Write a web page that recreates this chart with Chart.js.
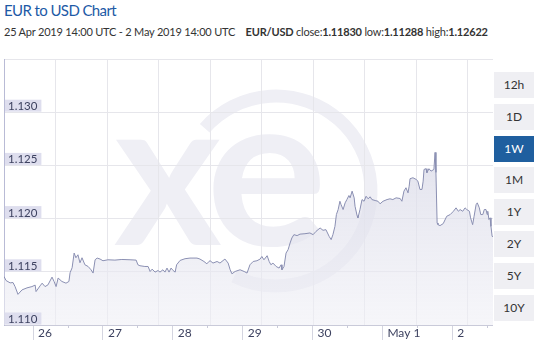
<!DOCTYPE html>
<html>
<head>
<meta charset="utf-8">
<script src="https://cdn.jsdelivr.net/npm/chart.js@4"></script>
<style>
  body { margin: 0; width: 536px; height: 348px; background: #fff; font-family: Lato, sans-serif; position: relative; overflow: hidden; }
  #title { position: absolute; left: 4px; top: 0px; font-size: 15px; letter-spacing: -0.6px; line-height: 20px; color: #1d5aa6; }
  #sub { position: absolute; left: 4px; top: 24px; font-size: 11px; letter-spacing: -0.2px; line-height: 16px; color: #333; white-space: nowrap; }
  #sub b { font-weight: 700; }
  #wrap { position: absolute; left: 0; top: 50px; width: 493px; height: 298px; }
  .btn { position: absolute; left: 494px; width: 40px; height: 26px; line-height: 26px; text-align: center; font-size: 12px; color: #333; background: #efeff3; }
  .btn.on { background: #1f5f9f; color: #fff; }
</style>
</head>
<body>
<div id="title">EUR to USD Chart</div>
<div id="sub">25 Apr 2019 14:00 UTC - 2 May 2019 14:00 UTC &nbsp;&nbsp; <b>EUR/USD</b> close:<b>1.11830</b> low:<b>1.11288</b> high:<b>1.12622</b></div>
<div id="wrap"><canvas id="chart"></canvas></div>
<div id="btns"></div>
<script>
// hours since 25 Apr 2019 14:00 UTC
let hours = [0.0,0.7,2.1,3.1,3.8,4.8,6.2,7.9,9.6,10.7,11.0,12.4,13.1,14.1,15.1,16.5,17.2,17.9,18.6,19.9,
  21.3,22.3,22.7,23.4,24.1,24.7,25.4,26.1,26.8,27.8,28.9,29.9,30.6,31.3,32.0,33.0,34.0,35.7,38.1,40.5,
  43.3,45.4,46.0,46.7,48.4,49.5,50.2,50.9,51.9,52.9,53.6,54.6,55.3,56.0,56.7,57.4,58.1,58.8,59.3,60.5,
  62.2,63.9,66.3,67.3,68.7,69.7,70.4,70.8,71.8,73.2,74.2,75.9,77.0,77.7,78.3,79.4,81.1,82.5,83.5,84.5,
  85.6,86.9,88.0,88.6,89.3,90.4,91.1,91.7,92.4,93.5,94.5,95.2,95.5,96.2,96.9,97.6,98.3,98.9,99.6,100.7,
  101.7,103.4,105.1,106.2,107.2,108.6,109.6,110.6,111.7,112.4,113.0,113.7,114.2,114.8,115.4,115.8,116.5,117.2,117.8,118.5,
  118.9,119.6,120.3,120.6,121.3,121.6,122.3,123.0,123.7,124.4,125.1,125.8,126.4,127.5,128.5,129.2,130.2,131.6,132.6,133.6,
  134.7,136.1,136.7,137.4,138.1,138.8,139.2,139.5,140.5,141.6,142.2,142.9,143.6,144.0,144.3,145.0,145.3,146.0,146.7,147.7,
  148.1,148.4,148.8,149.1,149.8,150.9,152.1,153.3,154.4,155.3,156.1,156.7,157.6,158.4,159.0,159.9,160.3,161.0,161.5,162.2,
  162.6,163.3,163.8,164.5,165.0,165.6,166.0,166.2,166.6,167.0,167.3,167.7,168.0];
let rates = [1.11456,1.11418,1.11396,1.11399,1.11361,1.11288,1.11330,1.11349,1.11361,1.11375,1.11314,1.11368,1.11393,1.11361,1.11377,1.11450,1.11409,1.11361,1.11441,1.11409,
  1.11393,1.11409,1.11491,1.11538,1.11676,1.11632,1.11660,1.11585,1.11632,1.11566,1.11550,1.11519,1.11488,1.11613,1.11629,1.11620,1.11604,1.11613,1.11610,1.11616,
  1.11613,1.11610,1.11566,1.11557,1.11550,1.11550,1.11503,1.11525,1.11497,1.11512,1.11497,1.11519,1.11497,1.11535,1.11497,1.11535,1.11512,1.11497,1.11566,1.11607,
  1.11623,1.11629,1.11629,1.11620,1.11597,1.11575,1.11597,1.11604,1.11582,1.11597,1.11582,1.11620,1.11582,1.11519,1.11481,1.11503,1.11519,1.11503,1.11488,1.11566,
  1.11597,1.11604,1.11620,1.11644,1.11613,1.11651,1.11597,1.11566,1.11582,1.11550,1.11535,1.11566,1.11519,1.11550,1.11676,1.11708,1.11771,1.11818,1.11849,1.11840,
  1.11854,1.11858,1.11865,1.11849,1.11880,1.11912,1.11890,1.11896,1.11833,1.11802,1.11849,1.11927,1.12038,1.12085,1.12163,1.12132,1.12085,1.12148,1.12179,1.12217,
  1.12195,1.12258,1.12195,1.12116,1.12028,1.12007,1.12085,1.12179,1.12163,1.12210,1.12186,1.12205,1.12179,1.12170,1.12163,1.12139,1.12163,1.12179,1.12186,1.12179,
  1.12195,1.12189,1.12163,1.12258,1.12290,1.12242,1.12305,1.12375,1.12384,1.12368,1.12352,1.12274,1.12274,1.12352,1.12462,1.12469,1.12431,1.12469,1.12446,1.12462,
  1.12622,1.12434,1.11959,1.11943,1.11934,1.11953,1.12022,1.12038,1.12069,1.12101,1.12069,1.12085,1.12069,1.12101,1.12085,1.12069,1.12007,1.11943,1.12022,1.12132,
  1.12148,1.12101,1.12038,1.12038,1.12085,1.12085,1.12038,1.12069,1.11991,1.12007,1.11927,1.11833,1.11830];

// day ticks (midnight UTC) and their labels
let dayHours = [10, 34, 58, 82, 106, 130, 154];
let dayLabels = ["26", "27", "28", "29", "30", "May 1", "2"];
let noonHours = [22, 46, 70, 94, 118, 142, 166];
let yTicks = [1.110, 1.115, 1.120, 1.125, 1.130];
let periods = ["12h", "1D", "1W", "1M", "1Y", "2Y", "5Y", "10Y"];

let btns = document.getElementById('btns');
periods.forEach((p, i) => {
  let d = document.createElement('div');
  d.className = 'btn' + (p == '1W' ? ' on' : '');
  d.style.top = (72 + i * 31.8) + 'px';
  d.textContent = p;
  btns.appendChild(d);
});

// faint xe logo behind the chart
const watermark = {
  id: 'watermark',
  beforeDraw(chart) {
    let c = chart.ctx;
    c.save();
    c.strokeStyle = '#efeff5';
    c.lineWidth = 13;
    c.beginPath();
    c.arc(276, 141, 95, Math.PI * 1.23, Math.PI * 0.645, false);
    c.stroke();
    c.fillStyle = '#efeff5';
    c.font = 'bold 206px Lato';
    c.fillText('x', 114, 195);
    c.save();
    c.translate(206, 195);
    c.scale(1.1, 1.03);
    c.fillText('e', 0, 0);
    c.restore();
    c.restore();
  }
};

// y labels on a lavender box, drawn over the filled area
const yLabels = {
  id: 'yLabels',
  afterDatasetsDraw(chart) {
    let c = chart.ctx;
    let y = chart.scales.y;
    c.save();
    c.font = '11.5px Lato';
    c.textBaseline = 'alphabetic';
    y.ticks.forEach(t => {
      let py = y.getPixelForValue(t.value);
      let s = t.value.toFixed(3);
      let w = c.measureText(s).width;
      c.fillStyle = 'rgb(222,222,238)';
      c.fillRect(y.right + 1, py - 12.5, w + 7, 12);
      c.fillStyle = '#3d4260';
      c.fillText(s, y.right + 4, py - 2);
    });
    c.restore();
  }
};

let pts = hours.map((h, i) => ({x: h, y: rates[i]}));

let ctx = document.getElementById('chart').getContext('2d');
let chart = new Chart(ctx, {
  type: 'line',
  data: {
    datasets: [{
      data: pts,
      borderColor: '#8a8fb2',
      borderWidth: 1,
      pointRadius: 0,
      tension: 0,
      fill: 'start',
      backgroundColor: (c) => {
        let a = c.chart.chartArea;
        if (!a) return '#e4e4ee';
        let g = c.chart.ctx.createLinearGradient(0, a.top, 0, a.bottom);
        g.addColorStop(0, 'rgba(205,206,224,0.85)');
        g.addColorStop(1, 'rgba(240,240,246,0.6)');
        return g;
      }
    }]
  },
  options: {
    responsive: true,
    maintainAspectRatio: false,
    animation: false,
    layout: { padding: { left: 4, top: 9, right: 0, bottom: 0 } },
    plugins: { legend: { display: false }, tooltip: { enabled: false } },
    scales: {
      x: {
        type: 'linear', min: 0, max: 168, weight: 1,
        afterBuildTicks: s => { s.ticks = dayHours.map(v => ({value: v})); },
        afterFit: s => { s.height = 23; },
        grid: { drawOnChartArea: false, tickLength: 15, tickColor: '#d4d5e0' },
        border: { color: '#c9cad9' },
        ticks: {
          callback: (v, i) => dayLabels[i],
          align: 'start', labelOffset: 5, padding: -14,
          color: '#3d4260', font: { family: 'Lato', size: 12 }
        }
      },
      xm: {
        type: 'linear', position: 'bottom', min: 0, max: 168, weight: 0,
        afterBuildTicks: s => { s.ticks = noonHours.map(v => ({value: v})); },
        afterFit: s => { s.height = 0; },
        grid: { drawOnChartArea: false, tickLength: 3, tickColor: '#c9cad9' },
        border: { display: false },
        ticks: { display: false }
      },
      xg: {
        type: 'linear', position: 'top', min: 0, max: 9.49,
        afterBuildTicks: s => { s.ticks = [1,2,3,4,5,6,7,8,9].map(v => ({value: v})); },
        afterFit: s => { s.height = 0; },
        grid: { color: '#e6e6eb', drawTicks: false },
        border: { color: '#e6e6eb' },
        ticks: { display: false }
      },
      y: {
        min: 1.110, max: 1.135,
        afterBuildTicks: s => { s.ticks = yTicks.map(v => ({value: v})); },
        afterFit: s => { s.width = 0; },
        grid: { color: '#e6e6eb', drawTicks: false },
        border: { color: '#b9bbd6' },
        ticks: { display: false }
      }
    }
  },
  plugins: [watermark, yLabels]
});
</script>
</body>
</html>
